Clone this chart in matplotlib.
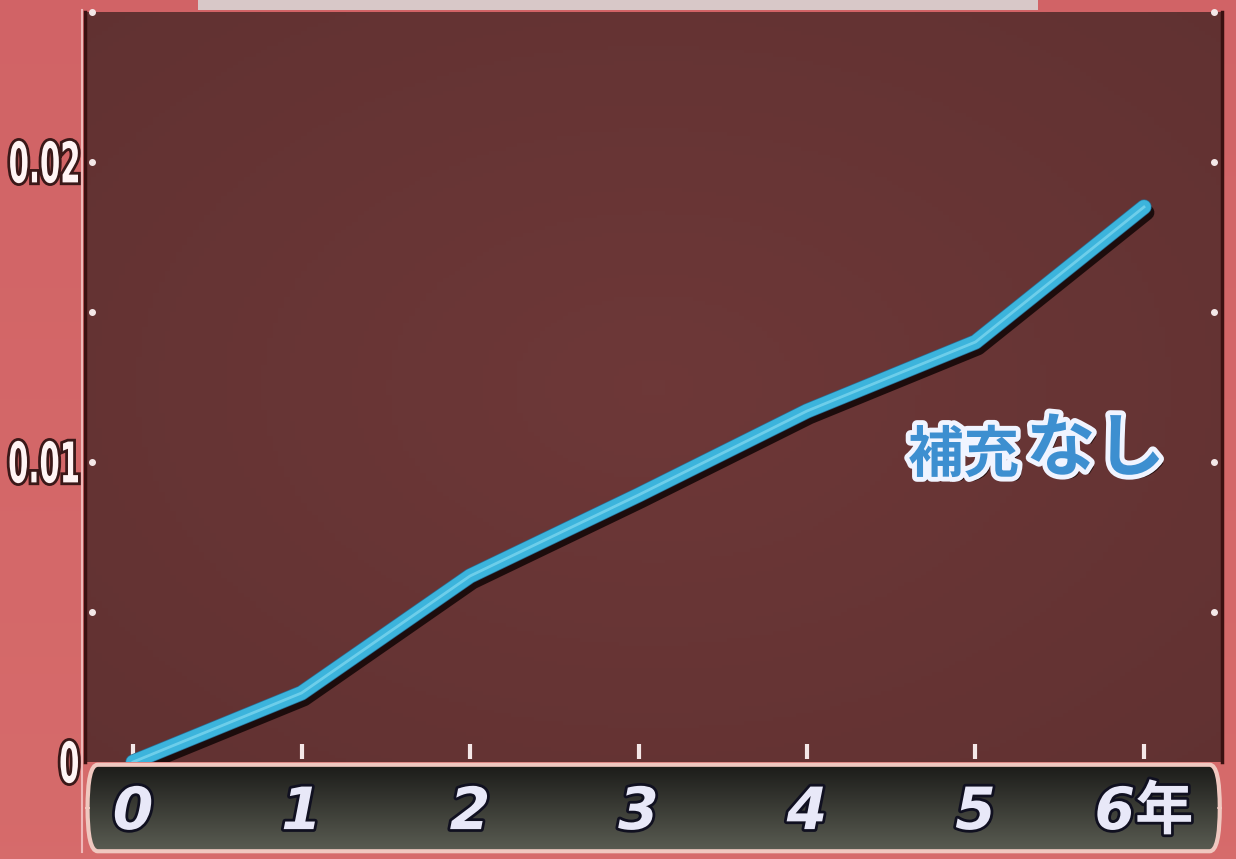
import numpy as np
import matplotlib
matplotlib.use("Agg")
import matplotlib.pyplot as plt
import matplotlib.patheffects as pe
from matplotlib.patches import FancyBboxPatch, PathPatch
from matplotlib.textpath import TextPath
from matplotlib.font_manager import FontProperties
from matplotlib.transforms import Affine2D

plt.rcParams['font.family'] = ['Noto Sans CJK JP', 'DejaVu Sans']

# data
years = [0, 1, 2, 3, 4, 5, 6]
values = [0.0, 0.0023, 0.0062, 0.0089, 0.0117, 0.0140, 0.0185]
xtick_labels = ['0', '1', '2', '3', '4', '5', '6年']
yticks = [0, 0.01, 0.02]
ytick_labels = ['0', '0.01', '0.02']
minor_yticks = [0.005, 0.015, 0.025]
label_a = '補充'
label_b = 'なし'

W, H = 1236, 859
fig = plt.figure(figsize=(W / 100, H / 100), dpi=100)

# background gradient (pink/red)
bg = fig.add_axes([0, 0, 1, 1])
bg.set_axis_off()
gy = np.linspace(0, 1, 200)
c1 = np.array([0.84, 0.42, 0.42])
c2 = np.array([0.80, 0.36, 0.38])
img = c1[None, None, :] * (1 - gy[:, None, None] * 0.5) + c2[None, None, :] * (gy[:, None, None] * 0.5)
img = np.repeat(img, 10, axis=1)
bg.imshow(img, extent=[0, 1, 0, 1], aspect='auto', origin='lower')
bg.add_patch(plt.Rectangle((0.16, 0.988), 0.68, 0.012, color='#d8c8c8', lw=0))
bg.plot([82 / W, 82 / W], [(H - 852) / H, (H - 10) / H], color='#f0b8b8', lw=1.5)
bg.set_xlim(0, 1)
bg.set_ylim(0, 1)

# main plot axes
L = 85 / W
B = (H - 762) / H
Wd = (1222 - 85) / W
Ht = (762 - 12) / H
ax = fig.add_axes([L, B, Wd, Ht])
ax.set_xlim(-0.285, 6.463)
ax.set_ylim(0, 0.025)
px = np.linspace(-1, 1, 200)
PX, PY = np.meshgrid(px, px)
r = np.sqrt(PX ** 2 + PY ** 2)
base = np.array([0.43, 0.22, 0.22])
pimg = base[None, None, :] * (1.0 - 0.08 * r[..., None])
ax.imshow(pimg, extent=[-0.285, 6.463, 0, 0.025], aspect='auto', origin='lower', zorder=0)

for s in ['top', 'bottom']:
    ax.spines[s].set_visible(False)
for s in ['left', 'right']:
    ax.spines[s].set_color('#3a1010')
    ax.spines[s].set_linewidth(2.5)

# line with shadow
ax.plot(years, values, color='#3cb4dc', lw=10, solid_capstyle='round', zorder=5,
        path_effects=[pe.SimpleLineShadow(offset=(2, -4), shadow_color='#150808', alpha=0.9, linewidth=11),
                      pe.Stroke(linewidth=11, foreground='#2a6f95'),
                      pe.Normal()])
ax.plot(years, values, color='#8fe0f5', lw=2, alpha=0.6, zorder=6)

# ticks
ax.set_xticks([])
ax.set_yticks([])
for x in years:
    ax.plot([x, x], [0.0001, 0.0006], color='#f4e8e8', lw=3, zorder=4, solid_capstyle='butt')
for yv in yticks[1:] + minor_yticks:
    ax.plot([-0.245], [yv], 'o', color='#f4e8e8', ms=4, zorder=4, clip_on=False)
    ax.plot([6.415], [yv], 'o', color='#f4e8e8', ms=4, zorder=4, clip_on=False)

# y tick labels: narrow tall glyphs via TextPath, in pixel coords
fp = FontProperties(family='DejaVu Sans', weight='bold')
for yv, lab in zip(yticks, ytick_labels):
    tp = TextPath((0, 0), lab, size=56, prop=fp)
    bb = tp.get_extents()
    sx = 0.52
    ypix = H - (762 - yv / 0.025 * 750)
    tr = Affine2D().translate(-bb.x1, -(bb.y0 + bb.y1) / 2).scale(sx, 1.0).translate(78, ypix)
    path = tr.transform_path(tp)
    patch = PathPatch(path, fc='#fff4f4', ec='none', transform=None, zorder=10,
                      path_effects=[pe.Stroke(linewidth=4, foreground='#3a1818'), pe.Normal()])
    # use pixel transform
    from matplotlib.transforms import IdentityTransform
    patch.set_transform(IdentityTransform())
    fig.add_artist(patch)

# series label
eff = [pe.withSimplePatchShadow(offset=(3, -3), shadow_rgbFace='#1a0808', alpha=0.9),
       pe.Stroke(linewidth=7, foreground='#f0f4ff'), pe.Normal()]
ax.text(4.6, 0.0102, label_a, fontsize=40, fontweight='bold', color='#3d8fd0', ha='left', va='center',
        zorder=7, path_effects=eff)
ax.text(5.3, 0.0104, label_b, fontsize=50, fontweight='bold', color='#3d8fd0', ha='left', va='center',
        zorder=7, path_effects=eff)

# x band axes
bax = fig.add_axes([L, (H - 854) / H, Wd, (854 - 762) / H])
bax.set_xlim(-0.285, 6.463)
bax.set_ylim(0, 1)
bax.set_axis_off()
gy2 = np.linspace(0, 1, 100)
top_c = np.array([0.10, 0.10, 0.09])
bot_c = np.array([0.36, 0.37, 0.33])
bimg = top_c[None, None, :] * gy2[:, None, None] + bot_c[None, None, :] * (1 - gy2[:, None, None])
bimg = np.repeat(bimg, 10, axis=1)
im = bax.imshow(bimg, extent=[-0.285, 6.463, 0, 1], aspect='auto', origin='lower', zorder=0)
box = FancyBboxPatch((-0.27, 0.03), 6.72, 0.94, boxstyle='round,pad=0,rounding_size=0.06',
                     fc='none', ec='#f0c8c0', lw=3, zorder=3, mutation_aspect=8)
bax.add_patch(box)
im.set_clip_path(box)
for x, lab in zip(years, xtick_labels):
    bax.text(x, 0.45, lab, ha='center', va='center', fontsize=42, fontweight='bold', style='italic',
             color='#e8e8f8', zorder=4, family=['DejaVu Sans', 'Noto Sans CJK JP'],
             path_effects=[pe.withStroke(linewidth=4, foreground='#101020')])

fig.savefig('out.png', dpi=100)
